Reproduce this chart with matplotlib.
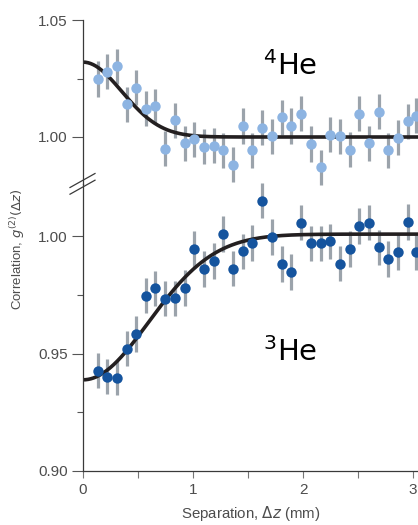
import numpy as np
import matplotlib
matplotlib.use("Agg")
import matplotlib.pyplot as plt
from matplotlib.ticker import MultipleLocator, FixedLocator

# separation (mm), same grid for both isotopes
sep = [0.134, 0.222, 0.31, 0.398, 0.485, 0.57, 0.657, 0.748, 0.836, 0.925,
       1.013, 1.1, 1.188, 1.276, 1.364, 1.452, 1.54, 1.627, 1.715, 1.806,
       1.894, 1.98, 2.07, 2.161, 2.248, 2.336, 2.425, 2.512, 2.6, 2.688,
       2.775, 2.863, 2.952, 3.03]

# 4He (bosons) - bunching
g2_he4 = [1.0248, 1.0279, 1.0303, 1.0140, 1.0211, 1.0120, 1.0132, 0.9950,
          1.0071, 0.9973, 0.9991, 0.9959, 0.9963, 0.9943, 0.9882, 1.0047,
          0.9944, 1.0039, 1.0004, 1.0084, 1.0047, 1.0100, 0.9970, 0.9871,
          1.0010, 1.0004, 0.9946, 1.0100, 0.9974, 1.0108, 0.9944, 0.9996,
          1.0067, 1.0091]

# 3He (fermions) - antibunching
g2_he3 = [0.9427, 0.9401, 0.9397, 0.9520, 0.9583, 0.9746, 0.9777, 0.9733,
          0.9735, 0.9779, 0.9945, 0.9860, 0.9894, 1.0009, 0.9861, 0.9935,
          0.9970, 1.0150, 0.9996, 0.9881, 0.9847, 1.0057, 0.9969, 0.9969,
          0.9977, 0.9882, 0.9945, 1.0043, 1.0057, 0.9952, 0.9902, 0.9932,
          1.0060, 0.9931]

err = 0.0075

# gaussian fits: offset, amplitude, width (mm)
fit_he4 = (1.0, 0.032, 0.50)
fit_he3 = (1.0008, -0.062, 0.84)

light = "#8db4e2"
dark = "#15549e"
bar_col = "#9ba3ab"
curve_col = "#231f20"
txt_col = "#4d4d4d"

plt.rcParams["font.family"] = ["Liberation Sans", "DejaVu Sans"]

fig = plt.figure(figsize=(4.18, 5.25), dpi=100)
left = 83 / 418
width = 1 - left
ax_top = fig.add_axes([left, 1 - 184 / 525, width, 164 / 525])
ax_bot = fig.add_axes([left, 1 - 471 / 525, width, 287 / 525])

zz = np.linspace(0, 3.1, 400)


def gauss(z, p):
    return p[0] + p[1] * np.exp(-(z / p[2]) ** 2)


for ax, g2, fit, col in [(ax_top, g2_he4, fit_he4, light),
                         (ax_bot, g2_he3, fit_he3, dark)]:
    ax.errorbar(sep, g2, yerr=err, fmt="none", ecolor=bar_col,
                elinewidth=2.3, capsize=0, zorder=1, clip_on=False)
    ax.plot(zz, gauss(zz, fit), color=curve_col, lw=2.6, zorder=2)
    ax.plot(sep, g2, "o", color=col, ms=7.5, mec="none", zorder=3,
            clip_on=False)
    ax.set_xlim(0, 3.045)
    for s in ["right", "top"]:
        ax.spines[s].set_visible(False)
    ax.spines["left"].set_color("#3a3a3a")
    ax.spines["left"].set_linewidth(0.9)
    ax.tick_params(axis="y", which="major", length=8, width=0.8,
                   color="#555555", labelcolor=txt_col, labelsize=11, pad=3)
    ax.tick_params(axis="y", which="minor", length=4, width=0.8,
                   color="#555555")
    ax.patch.set_alpha(0)

ax_top.set_ylim(1.05 - 164 / 2340, 1.05)
ax_top.yaxis.set_major_locator(FixedLocator([1.00, 1.05]))
ax_top.yaxis.set_minor_locator(FixedLocator([1.025]))
ax_top.yaxis.set_major_formatter(matplotlib.ticker.FormatStrFormatter("%.2f"))
ax_top.spines["bottom"].set_visible(False)
ax_top.set_xticks([])

ax_bot.set_ylim(0.90, 1.0 + 52 / 2350)
ax_bot.yaxis.set_major_locator(FixedLocator([0.90, 0.95, 1.00]))
ax_bot.yaxis.set_minor_locator(FixedLocator([0.925, 0.975]))
ax_bot.yaxis.set_major_formatter(matplotlib.ticker.FormatStrFormatter("%.2f"))
ax_bot.spines["bottom"].set_color("#3a3a3a")
ax_bot.spines["bottom"].set_linewidth(0.9)
ax_bot.xaxis.set_major_locator(MultipleLocator(1))
ax_bot.xaxis.set_minor_locator(MultipleLocator(0.5))
ax_bot.tick_params(axis="x", which="major", length=5, width=0.8,
                   color="#777777", labelcolor=txt_col, labelsize=11, pad=4)
ax_bot.tick_params(axis="x", which="minor", length=5, width=0.8,
                   color="#777777")
ax_bot.set_xlabel("Separation, $\\Delta z$ (mm)", fontsize=10.8, color=txt_col,
                  labelpad=5)

fig.text(18 / 418, 1 - 249 / 525, "Correlation, $g^{(2)}(\\Delta z)$",
         rotation=90, ha="center", va="center", fontsize=9.5, color=txt_col)

ax_top.text(1.88, 1.0265, "$^{4}$He", fontsize=21, ha="center",
            va="baseline", family="DejaVu Sans", color="black")
ax_bot.text(1.88, 0.947, "$^{3}$He", fontsize=21, ha="center",
            va="baseline", family="DejaVu Sans", color="black")

# axis break marks
for dy in (0, 6.7):
    y0 = 1 - (187.5 + dy) / 525
    y1 = 1 - (173.5 + dy) / 525
    fig.add_artist(plt.Line2D([70 / 418, 95 / 418], [y0, y1],
                              color="#3a3a3a", lw=0.9))

fig.savefig("out.png", dpi=100)
